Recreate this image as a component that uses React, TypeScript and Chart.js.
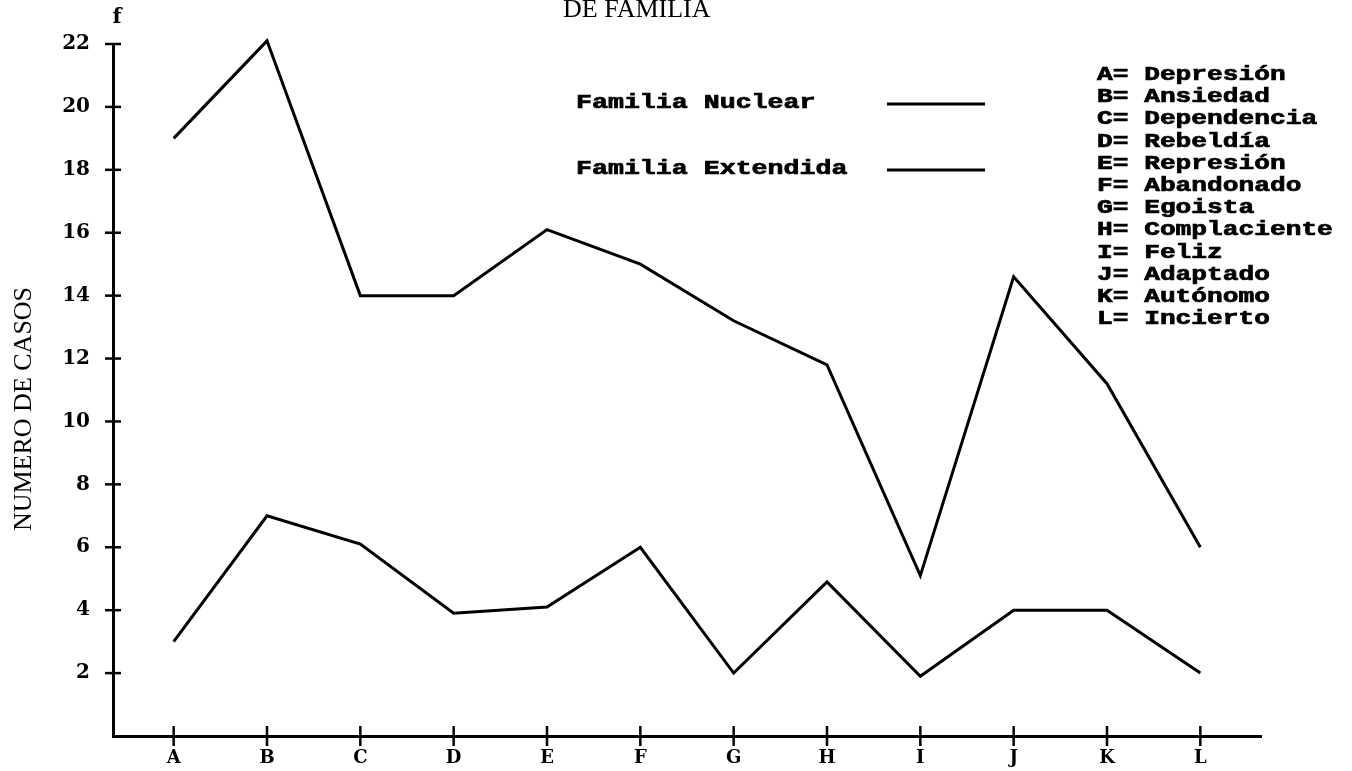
import { useEffect, useRef } from 'react';
import { Chart, registerables } from 'chart.js';

Chart.register(...registerables);

// ---- data ----
const categories = ['A', 'B', 'C', 'D', 'E', 'F', 'G', 'H', 'I', 'J', 'K', 'L'];
const nuclear = [19, 22.1, 14, 14, 16.1, 15, 13.2, 11.8, 5.1, 14.6, 11.2, 6];
const extendida = [3, 7, 6.1, 3.9, 4.1, 6, 2, 4.9, 1.9, 4, 4, 2];
const yTicks = [2, 4, 6, 8, 10, 12, 14, 16, 18, 20, 22];
const seriesNames = ['Familia Nuclear', 'Familia Extendida'];
const keyLabels = [
  'A= Depresión',
  'B= Ansiedad',
  'C= Dependencia',
  'D= Rebeldía',
  'E= Represión',
  'F= Abandonado',
  'G= Egoista',
  'H= Complaciente',
  'I= Feliz',
  'J= Adaptado',
  'K= Autónomo',
  'L= Incierto',
];
const titleText = 'DE FAMILIA';
const yAxisTitle = 'NUMERO DE CASOS';
const yAxisSymbol = 'f';

const TYPE = '"DejaVu Serif", "Liberation Serif", serif';
const MONO = '"Liberation Mono", "DejaVu Sans Mono", monospace';
const SERIF = '"Liberation Serif", "DejaVu Serif", serif';

// monospace text stretched horizontally, typewriter look
function drawWide(ctx: CanvasRenderingContext2D, text: string, x: number, y: number, sx: number) {
  ctx.save();
  ctx.translate(x, y);
  ctx.scale(sx, 1);
  ctx.textAlign = 'left';
  ctx.fillText(text, 0, 0);
  ctx.lineWidth = 0.7;
  ctx.strokeText(text, 0, 0);
  ctx.restore();
}

const decorPlugin = {
  id: 'decor',
  beforeDraw(chart: any) {
    const ctx = chart.ctx as CanvasRenderingContext2D;
    ctx.save();
    ctx.fillStyle = '#ffffff';
    ctx.fillRect(0, 0, chart.width, chart.height);
    ctx.restore();
  },
  afterDraw(chart: any) {
    const ctx = chart.ctx as CanvasRenderingContext2D;
    const xs = chart.scales.x;
    const ys = chart.scales.y;
    const axX = xs.getPixelForValue(xs.min);
    const axY = ys.getPixelForValue(0);
    ctx.save();
    ctx.strokeStyle = '#000';
    ctx.fillStyle = '#000';
    ctx.lineCap = 'butt';

    // y tick crosses
    ctx.lineWidth = 2.5;
    yTicks.forEach((v) => {
      const py = ys.getPixelForValue(v);
      ctx.beginPath();
      ctx.moveTo(axX - 8, py);
      ctx.lineTo(axX + 8, py);
      ctx.stroke();
    });
    // x tick crosses
    categories.forEach((_, i) => {
      const px = xs.getPixelForValue(i);
      ctx.beginPath();
      ctx.moveTo(px, axY - 10);
      ctx.lineTo(px, axY + 10);
      ctx.stroke();
    });

    // f symbol
    ctx.font = `bold 21px ${TYPE}`;
    ctx.textBaseline = 'alphabetic';
    ctx.textAlign = 'center';
    ctx.fillText(yAxisSymbol, axX + 4, 23);

    // title (cut at top)
    ctx.font = `26px ${SERIF}`;
    ctx.textAlign = 'left';
    ctx.fillText(titleText, 563, 17);

    // y axis title
    ctx.save();
    ctx.translate(31, 409);
    ctx.rotate(-Math.PI / 2);
    ctx.font = `26px ${SERIF}`;
    ctx.textAlign = 'center';
    ctx.textBaseline = 'alphabetic';
    ctx.fillText(yAxisTitle, 0, 0);
    ctx.restore();

    // series legend
    ctx.font = `bold 20px ${MONO}`;
    ctx.textBaseline = 'middle';
    const legY = [103, 169];
    seriesNames.forEach((name, i) => {
      drawWide(ctx, name, 576, legY[i], 1.33);
      ctx.lineWidth = 3;
      ctx.beginPath();
      ctx.moveTo(887, legY[i] + 1);
      ctx.lineTo(985, legY[i] + 1);
      ctx.stroke();
    });

    // category key
    keyLabels.forEach((t, i) => {
      drawWide(ctx, t, 1097, 75 + i * 22.2, 1.31);
    });
    ctx.restore();
  },
};

export default function App() {
  const ref = useRef<HTMLCanvasElement | null>(null);
  useEffect(() => {
    document.body.style.margin = '0';
    const canvas = ref.current;
    if (!canvas) return;
    const chart = new Chart(canvas, {
      type: 'line',
      data: {
        datasets: [
          {
            label: seriesNames[0],
            data: nuclear.map((v, i) => ({ x: i, y: v })),
            borderColor: '#000',
            borderWidth: 3,
            pointRadius: 0,
            tension: 0,
            clip: false as any,
          },
          {
            label: seriesNames[1],
            data: extendida.map((v, i) => ({ x: i, y: v })),
            borderColor: '#000',
            borderWidth: 3,
            pointRadius: 0,
            tension: 0,
            clip: false as any,
          },
        ],
      },
      options: {
        animation: false,
        responsive: false,
        layout: { padding: { left: 0, top: 44, right: 91, bottom: 0 } },
        plugins: {
          legend: { display: false },
          tooltip: { enabled: false },
          title: { display: false },
        },
        scales: {
          x: {
            type: 'linear',
            min: -0.65,
            max: 11.65,
            afterBuildTicks: (s: any) => {
              s.ticks = categories.map((_, i) => ({ value: i }));
            },
            afterFit: (s: any) => {
              s.height = 35;
            },
            grid: { display: false, drawTicks: false },
            border: { display: true, color: '#000', width: 3 },
            ticks: {
              autoSkip: false,
              maxRotation: 0,
              padding: 12,
              color: '#000',
              font: { family: TYPE, weight: 'bold', size: 18 },
              callback: (v: any) => categories[Math.round(Number(v))] ?? '',
            },
          },
          y: {
            type: 'linear',
            min: 0,
            max: 22,
            afterBuildTicks: (s: any) => {
              s.ticks = yTicks.map((v) => ({ value: v }));
            },
            afterFit: (s: any) => {
              s.width = 113;
            },
            grid: { display: false, drawTicks: false },
            border: { display: true, color: '#000', width: 3 },
            ticks: {
              padding: 23,
              color: '#000',
              font: { family: TYPE, weight: 'bold', size: 20 },
              callback: (v: any) => String(v),
            },
          },
        },
      },
      plugins: [decorPlugin],
    });
    return () => chart.destroy();
  }, []);
  return (
    <div style={{ position: 'absolute', left: 0, top: 0, width: 1352, height: 771 }}>
      <canvas ref={ref} width={1352} height={771} style={{ display: 'block' }} />
    </div>
  );
}
